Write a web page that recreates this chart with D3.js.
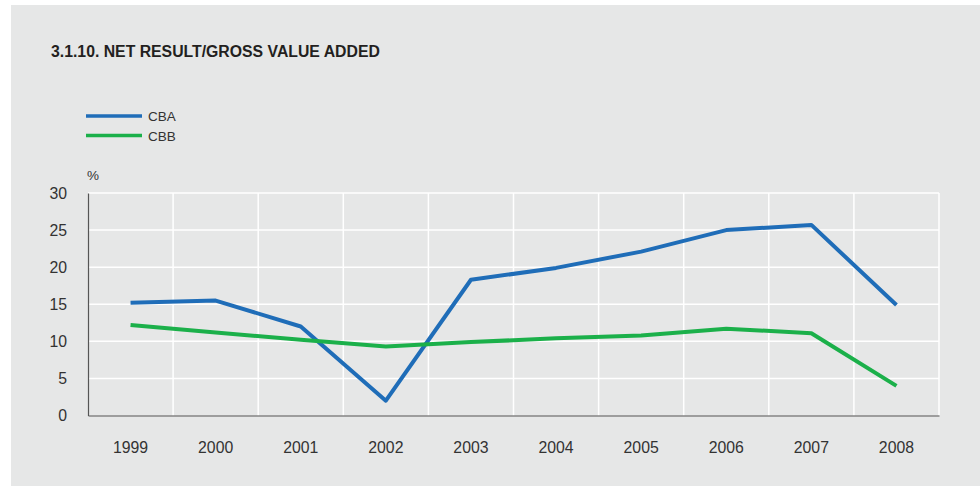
<!DOCTYPE html>
<html>
<head>
<meta charset="utf-8">
<script src="https://cdn.jsdelivr.net/npm/d3@7"></script>
<style>
  body { margin: 0; background: #fff; }
  svg { display: block; font-family: "Liberation Sans", Arial, sans-serif; }
</style>
</head>
<body>
<svg width="980" height="487"></svg>
<script>
const years = ['1999', '2000', '2001', '2002', '2003', '2004', '2005', '2006', '2007', '2008'];
const cba = [15.2, 15.5, 12.0, 2.0, 18.3, 19.9, 22.1, 25.0, 25.7, 14.9];
const cbb = [12.2, 11.2, 10.2, 9.3, 9.9, 10.4, 10.8, 11.7, 11.1, 4.0];
const yTicks = [0, 5, 10, 15, 20, 25, 30];
const seriesNames = ['CBA', 'CBB'];
const colors = ['#1f6db8', '#1bb04a'];

const svg = d3.select('svg');

// panel background
svg.append('rect')
  .attr('x', 11).attr('y', 5)
  .attr('width', 969).attr('height', 481)
  .attr('fill', '#e6e7e7');

svg.append('text')
  .attr('x', 51).attr('y', 56.5)
  .attr('font-size', 15.8)
  .attr('font-weight', 'bold')
  .attr('fill', '#231f20')
  .text('3.1.10. NET RESULT/GROSS VALUE ADDED');

// legend
const legend = svg.append('g');
seriesNames.forEach((name, i) => {
  const ly = 116 + i * 19.5;
  legend.append('line')
    .attr('x1', 86).attr('x2', 142)
    .attr('y1', ly).attr('y2', ly)
    .attr('stroke', colors[i]).attr('stroke-width', 3.5);
  legend.append('text')
    .attr('x', 148).attr('y', ly + 5)
    .attr('font-size', 13.5).attr('fill', '#333')
    .text(name);
});

svg.append('text')
  .attr('x', 87).attr('y', 180)
  .attr('font-size', 13.5).attr('fill', '#333')
  .text('%');

const plotLeft = 88, plotRight = 939, plotTop = 193, plotBottom = 415.5;

const x = d3.scaleBand().domain(years).range([plotLeft, plotRight]);
const y = d3.scaleLinear().domain([0, 30]).range([plotBottom, plotTop]);

// grid
const grid = svg.append('g');
grid.selectAll('.h').data(yTicks.slice(1)).join('line')
  .attr('x1', plotLeft).attr('x2', plotRight)
  .attr('y1', d => y(d)).attr('y2', d => y(d))
  .attr('stroke', '#fff').attr('stroke-width', 1.5);
grid.selectAll('.v').data(years.slice(1).concat(['end'])).join('line')
  .attr('x1', d => d === 'end' ? plotRight : x(d))
  .attr('x2', d => d === 'end' ? plotRight : x(d))
  .attr('y1', plotTop).attr('y2', plotBottom)
  .attr('stroke', '#fff').attr('stroke-width', 1.5);

// axes
const yAxis = svg.append('g')
  .attr('transform', `translate(${plotLeft},0)`)
  .call(d3.axisLeft(y).tickValues(yTicks).tickSize(0).tickPadding(21));
const xAxis = svg.append('g')
  .attr('transform', `translate(0,${plotBottom})`)
  .call(d3.axisBottom(x).tickSize(0).tickPadding(26));
[xAxis, yAxis].forEach(a => {
  a.select('.domain').attr('stroke', '#555').attr('stroke-width', 1.2);
  a.selectAll('text')
    .attr('font-size', 15.8).attr('fill', '#333')
    .attr('font-family', '"Liberation Sans", Arial, sans-serif');
});

// lines
const line = d3.line()
  .x((d, i) => x(years[i]) + x.bandwidth() / 2)
  .y(d => y(d));

[cba, cbb].forEach((vals, i) => {
  svg.append('path')
    .datum(vals)
    .attr('d', line)
    .attr('fill', 'none')
    .attr('stroke', colors[i])
    .attr('stroke-width', 4)
    .attr('stroke-linejoin', 'round');
});
</script>
</body>
</html>
